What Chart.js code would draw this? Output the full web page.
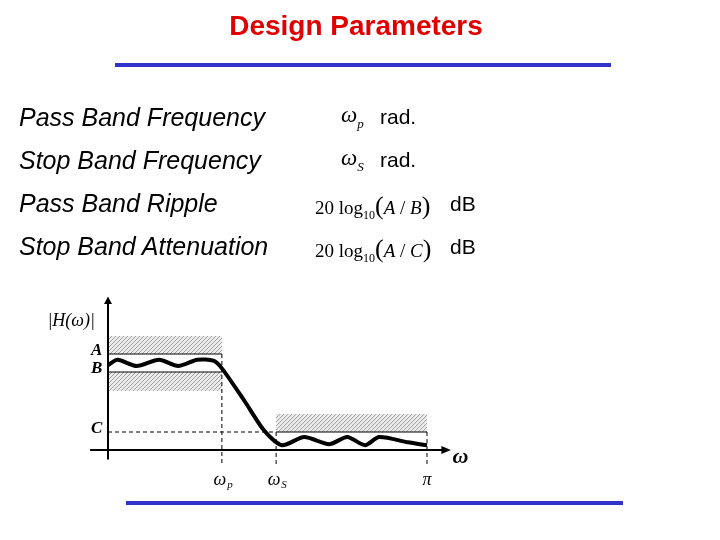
<!DOCTYPE html>
<html><head><meta charset="utf-8">
<script src="https://cdn.jsdelivr.net/npm/chart.js@4"></script>
<style>
body{margin:0;width:720px;height:540px;background:#fff;position:relative;overflow:hidden;font-family:"Liberation Sans",Arial,sans-serif}
.t{position:absolute;white-space:nowrap}
.lab{font-style:italic;font-size:25px;left:19px}
.m{font-family:"Liberation Serif","Times New Roman",serif;font-size:19px}
.bl{position:absolute;background:#3333cc;height:4px}
#wrap{position:absolute;left:0;top:0;width:720px;height:540px}
</style></head><body>
<div id="wrap"><canvas id="c"></canvas></div>
<div class="t" style="left:0;width:712px;text-align:center;top:10px;font-size:28px;font-weight:bold;color:#e00000">Design Parameters</div>
<div class="bl" style="left:115px;width:496px;top:63px"></div>
<div class="bl" style="left:126px;width:497px;top:501px"></div>
<div class="t lab" style="top:103px">Pass Band Frequency</div>
<div class="t lab" style="top:146px">Stop Band Frequency</div>
<div class="t lab" style="top:189px">Pass Band Ripple</div>
<div class="t lab" style="top:232px">Stop Band Attenuation</div>
<div class="t m" style="left:341px;top:102px;font-style:italic;font-size:23px">ω<sub style="font-size:13px">p</sub></div>
<div class="t" style="left:380px;top:105px;font-size:21px">rad.</div>
<div class="t m" style="left:341px;top:145px;font-style:italic;font-size:23px">ω<sub style="font-size:13px">S</sub></div>
<div class="t" style="left:380px;top:148px;font-size:21px">rad.</div>
<div class="t m" style="left:315px;top:191px">20 log<sub style="font-size:12px">10</sub><span style="font-size:26px">(</span><i>A</i> / <i>B</i><span style="font-size:26px">)</span></div>
<div class="t" style="left:450px;top:192px;font-size:21px">dB</div>
<div class="t m" style="left:315px;top:234px">20 log<sub style="font-size:12px">10</sub><span style="font-size:26px">(</span><i>A</i> / <i>C</i><span style="font-size:26px">)</span></div>
<div class="t" style="left:450px;top:235px;font-size:21px">dB</div>
<script>
// frequency axis: 0..1 corresponds to 0..π ; magnitude axis: A = 1
const wp = 0.357, ws = 0.527, wPi = 1.0;
const levelA = 1.0, levelB = 0.8125, levelC = 0.1875;
const passHatchTop = 1.1875, passHatchBottom = 0.615, stopHatchTop = 0.375;
const respX = [0,0.03,0.09,0.16,0.22,0.28,0.33,0.357,0.43,0.49,0.545,0.615,0.693,0.75,0.806,0.85,0.94,1.0];
const respY = [0.885,0.94,0.875,0.94,0.875,0.94,0.93,0.85,0.5,0.2,0.05,0.135,0.06,0.135,0.05,0.135,0.08,0.05];
const tickLabels = ['A','B','C'];
const hatchBoxes = [[0,wp,levelA,passHatchTop],[0,wp,passHatchBottom,levelB],[ws,wPi,levelC,stopHatchTop]];

function seg(x,y,opt){return Object.assign({data:x.map((v,i)=>({x:v,y:y[i]})),borderColor:'#000',borderWidth:1,pointRadius:0,fill:false,tension:0},opt||{});}
const ds=[
 seg([-0.056,1.06],[0,0],{borderWidth:2}), seg([0,0],[-0.1,1.55],{borderWidth:2}),
 seg([0,wp],[levelA,levelA]), seg([0,wp],[levelB,levelB]), seg([ws,wPi],[levelC,levelC]),
 seg([0,ws],[levelC,levelC],{borderDash:[4,3]}),
 seg([wp,wp],[levelA,-0.15],{borderDash:[4,3]}), seg([ws,ws],[levelC,-0.15],{borderDash:[4,3]}), seg([wPi,wPi],[levelC,-0.15],{borderDash:[4,3]}),
 seg(respX,respY,{borderWidth:4,tension:0.25})
];
const hatch={id:'hatch',beforeDatasetsDraw(ch){const g=ch.ctx,xs=ch.scales.x,ys=ch.scales.y;g.save();
 hatchBoxes.forEach(([x0,x1,y0,y1])=>{const L=xs.getPixelForValue(x0),R=xs.getPixelForValue(x1),T=ys.getPixelForValue(y1),B=ys.getPixelForValue(y0);
  g.save();g.beginPath();g.rect(L,T,R-L,B-T);g.clip();g.fillStyle='#ebebeb';g.fillRect(L,T,R-L,B-T);
  g.strokeStyle='#a0a0a0';g.lineWidth=1;g.beginPath();for(let k=L-(B-T);k<R;k+=4){g.moveTo(k,B);g.lineTo(k+(B-T),T);}g.stroke();g.restore();});
 g.restore();}};
const labels={id:'labels',afterDraw(ch){const g=ch.ctx,xs=ch.scales.x,ys=ch.scales.y;g.save();g.fillStyle='#000';
 const X=v=>xs.getPixelForValue(v),Y=v=>ys.getPixelForValue(v);
 g.beginPath();g.moveTo(X(1.075),Y(0));g.lineTo(X(1.045),Y(0)-4);g.lineTo(X(1.045),Y(0)+4);g.fill();
 g.beginPath();g.moveTo(X(0),Y(1.6));g.lineTo(X(0)-4,Y(1.52));g.lineTo(X(0)+4,Y(1.52));g.fill();
 g.font='italic bold 17px "Liberation Serif"';g.textAlign='right';g.textBaseline='middle';
 [levelA,levelB,levelC].forEach((v,i)=>g.fillText(tickLabels[i],X(-0.018),Y(v)-3));
 g.font='italic 18px "Liberation Serif"';g.textAlign='left';g.fillText('|H(ω)|',X(-0.19),Y(1.34));
 g.font='italic bold 22px "Liberation Serif"';g.fillText('ω',X(1.08),Y(-0.08));
 g.font='italic 18px "Liberation Serif"';g.textAlign='center';
 g.fillText('π',X(wPi),Y(-0.32));
 g.fillText('ω',X(wp)-2,Y(-0.32));g.fillText('ω',X(ws)-2,Y(-0.32));
 g.font='italic 11px "Liberation Serif"';g.fillText('p',X(wp)+8,Y(-0.37));g.fillText('S',X(ws)+8,Y(-0.37));
 g.restore();}};
new Chart(document.getElementById('c'),{type:'line',data:{datasets:ds},plugins:[hatch,labels],
 options:{responsive:true,maintainAspectRatio:false,animation:false,layout:{padding:0},
 plugins:{legend:{display:false},tooltip:{enabled:false}},
 scales:{x:{type:'linear',display:false,min:-108/319,max:612/319},y:{type:'linear',display:false,min:-90/96,max:450/96}}}});
</script></body></html>
